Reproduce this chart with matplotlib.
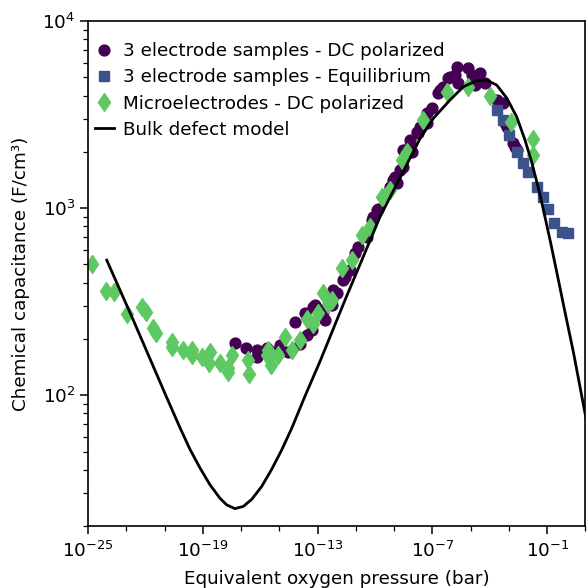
import numpy as np
import matplotlib.pyplot as plt
from matplotlib.ticker import NullFormatter

# values as log10(pO2 / bar) and log10(C_chem / F cm^-3)
dc_logp = [-17.32, -16.76, -16.18, -16.18, -15.66, -15.26, -14.96, -14.53, -14.18, -13.92,
           -13.57, -13.31, -13.22, -13.66, -12.78, -12.61, -12.26, -12.18, -11.65, -11.30,
           -11.04, -10.43, -9.91, -10.10, -9.21, -8.95, -8.52, -8.52, -8.17, -7.82,
           -7.29, -7.29, -7.03, -6.69, -6.60, -6.17, -5.73, -5.64, -5.12, -4.94,
           -4.60, -4.77, -4.25, -4.51, -3.64, -3.11, -2.68,
           -12.70, -13.13, -12.00, -11.57, -10.87, -10.17, -9.82, -9.04, -8.69, -8.08,
           -7.73, -8.86, -8.17, -7.65, -6.43, -6.08, -5.82, -3.29, -3.20, -2.77, -2.59]
dc_logc = [2.278, 2.255, 2.243, 2.205, 2.254, 2.232, 2.267, 2.232, 2.392, 2.276,
           2.321, 2.348, 2.472, 2.437, 2.455, 2.401, 2.481, 2.561, 2.615, 2.668,
           2.758, 2.847, 2.989, 2.953, 3.114, 3.167, 3.221, 3.310, 3.337, 3.408,
           3.506, 3.453, 3.533, 3.613, 3.631, 3.694, 3.756, 3.667, 3.747, 3.711,
           3.711, 3.658, 3.667, 3.720, 3.578, 3.435, 3.328,
           2.445, 2.481, 2.544, 2.633, 2.793, 2.936, 2.998, 3.150, 3.203, 3.301,
           3.399, 3.132, 3.364, 3.435, 3.649, 3.702, 3.711, 3.560, 3.453, 3.346, 3.310]

eq_logp = [-3.64, -3.29, -2.99, -2.59, -2.28, -1.98, -1.54, -1.20, -0.94, -0.64, -0.24, 0.11]
eq_logc = [3.524, 3.471, 3.390, 3.301, 3.239, 3.194, 3.114, 3.060, 2.998, 2.921, 2.873, 2.868]

micro_logp = [-24.81, -24.07, -23.63, -22.98, -22.16, -21.98, -21.59, -21.47, -20.59, -20.59,
              -20.05, -19.55, -19.55, -19.06, -18.62, -18.67, -18.10, -17.70, -17.66, -17.49,
              -16.65, -16.57, -15.66, -15.57, -15.45, -15.05, -14.70, -14.35, -13.92, -13.57,
              -13.22, -12.96, -12.70, -12.44, -12.26, -11.74, -11.21, -10.69, -10.26, -9.65,
              -9.21, -8.60, -8.34, -7.47, -6.25, -5.16, -3.99, -2.89, -1.72, -1.72]
micro_logc = [2.704, 2.558, 2.552, 2.433, 2.472, 2.444, 2.357, 2.332, 2.285, 2.258,
              2.241, 2.241, 2.214, 2.205, 2.232, 2.170, 2.173, 2.143, 2.123, 2.214,
              2.187, 2.116, 2.214, 2.241, 2.160, 2.214, 2.312, 2.241, 2.294, 2.410,
              2.383, 2.437, 2.544, 2.490, 2.508, 2.678, 2.722, 2.856, 2.900, 3.060,
              3.096, 3.257, 3.301, 3.471, 3.622, 3.649, 3.599, 3.463, 3.369, 3.283]

model_logp = [-24.02, -22.63, -20.89, -20.19, -19.67, -19.15, -18.62, -18.10, -17.75, -17.32,
              -16.88, -16.44, -15.92, -15.40, -14.87, -14.35, -13.66, -12.87, -11.57, -9.74,
              -7.64, -6.95, -6.08, -5.38, -4.68, -4.16, -3.64, -3.11, -2.59, -2.16,
              -1.81, -1.37, -0.85, -0.50, -0.07, 0.37, 1.03]
model_logc = [2.722, 2.401, 1.989, 1.826, 1.711, 1.612, 1.521, 1.449, 1.414, 1.394,
              1.406, 1.444, 1.513, 1.604, 1.709, 1.824, 1.995, 2.182, 2.508, 2.953,
              3.373, 3.480, 3.578, 3.649, 3.681, 3.684, 3.658, 3.588, 3.487, 3.364,
              3.246, 3.070, 2.829, 2.658, 2.444, 2.230, 1.875]

purple = '#440154'
blue = '#3b528b'
green = '#5ec962'

plt.rcParams['font.size'] = 13.2
fig = plt.figure(figsize=(5.87, 5.88), dpi=100)
ax = fig.add_axes([0.1499, 0.1054, 0.8475, 0.8588])

ax.plot(10**np.array(dc_logp), 10**np.array(dc_logc), 'o', color=purple, ms=7.8,
        label='3 electrode samples - DC polarized')
ax.plot(10**np.array(eq_logp), 10**np.array(eq_logc), 's', color=blue, ms=6.8,
        label='3 electrode samples - Equilibrium')
ax.plot(10**np.array(micro_logp), 10**np.array(micro_logc), 'd', color=green, ms=9.5,
        label='Microelectrodes - DC polarized')
ax.plot(10**np.array(model_logp), 10**np.array(model_logc), '-', color='black', lw=2,
        label='Bulk defect model')

ax.set_xscale('log')
ax.set_yscale('log')
ax.set_xlim(1e-25, 1e1)
ax.set_ylim(20, 1e4)

ax.set_xticks([1e-25, 1e-19, 1e-13, 1e-7, 1e-1])
ax.set_xticks([10.0**k for k in range(-23, 2, 2) if (k + 25) % 6 != 0], minor=True)
ax.xaxis.set_minor_formatter(NullFormatter())

ax.tick_params(which='major', length=5.5, width=1.1)
ax.tick_params(which='minor', length=3.5, width=0.9)
ax.tick_params(axis='x', which='major', pad=5)
for s in ax.spines.values():
    s.set_linewidth(1.2)

ax.set_xlabel('Equivalent oxygen pressure (bar)', labelpad=7)
ax.set_ylabel('Chemical capacitance (F/cm³)', labelpad=9)

ax.legend(loc='upper left', bbox_to_anchor=(0.0, 0.973), frameon=False,
          handlelength=1.0, handletextpad=0.5, borderaxespad=0.0, labelspacing=0.45)

plt.savefig('out.png', dpi=100)
